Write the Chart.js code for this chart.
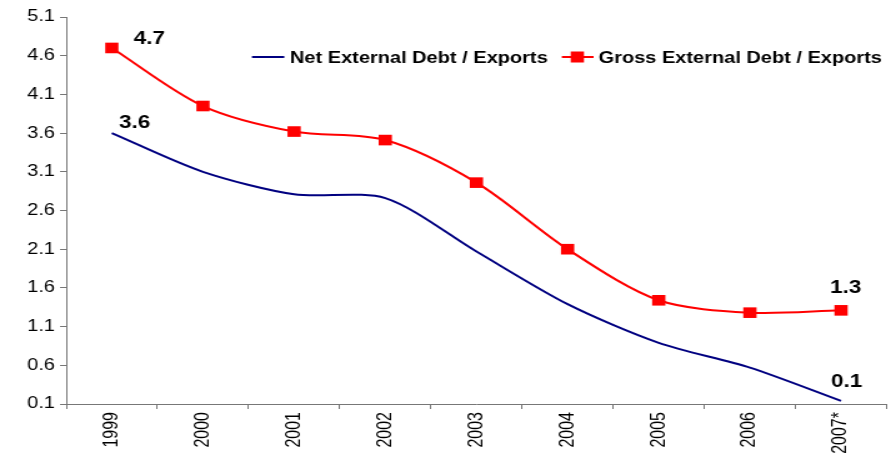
<!DOCTYPE html>
<html>
<head>
<meta charset="utf-8">
<script src="https://cdn.jsdelivr.net/npm/chart.js@4/dist/chart.umd.min.js"></script>
<style>
  html, body { margin: 0; padding: 0; background: #fff; }
  #debtChart { display: block; }
</style>
</head>
<body>
<!-- canvas is drawn narrow and widened by CSS, giving the wide letterforms -->
<canvas id="debtChart" width="717" height="461" style="width:896px;height:461px"></canvas>
<script>
const years = ['1999', '2000', '2001', '2002', '2003', '2004', '2005', '2006', '2007*'];
const netDebt = [3.6, 3.10, 2.81, 2.76, 2.07, 1.39, 0.89, 0.57, 0.14];
const grossDebt = [4.7, 3.95, 3.62, 3.51, 2.96, 2.10, 1.44, 1.28, 1.31];
const seriesNames = ['Net External Debt / Exports', 'Gross External Debt / Exports'];

const Y_MIN = 0.1;
const Y_MAX = 5.1;
const Y_STEP = 0.5;

const FONT = '"Liberation Sans", Arial, sans-serif';
const NAVY = '#000080';
const RED = '#ff0000';
const AXIS = '#777777';

// which points get a value written next to them, and where
const labelSpots = [
    { dataset: 1, index: 0, dx: 17.6, dy: -3.5 },
    { dataset: 0, index: 0, dx: 5.8, dy: -5.6 },
    { dataset: 1, index: 8, dx: -8.8, dy: -17 },
    { dataset: 0, index: 8, dx: -8, dy: -14 }
];

const valueLabels = {
    id: 'valueLabels',
    afterDatasetsDraw(chart) {
        const ctx = chart.ctx;
        ctx.save();
        ctx.font = 'bold 18px ' + FONT;
        ctx.fillStyle = '#000';
        ctx.textBaseline = 'alphabetic';
        labelSpots.forEach(s => {
            const pt = chart.getDatasetMeta(s.dataset).data[s.index];
            const v = chart.data.datasets[s.dataset].data[s.index];
            ctx.fillText(v.toFixed(1), pt.x + s.dx, pt.y + s.dy);
        });
        ctx.restore();
    }
};

// legend sits inside the plot, top right
const insideLegend = {
    id: 'insideLegend',
    afterDraw(chart) {
        const ctx = chart.ctx;
        const y = 57;
        ctx.save();
        ctx.lineWidth = 2;

        ctx.strokeStyle = NAVY;
        ctx.beginPath();
        ctx.moveTo(201.6, y);
        ctx.lineTo(227.5, y);
        ctx.stroke();

        ctx.strokeStyle = RED;
        ctx.beginPath();
        ctx.moveTo(449.6, y);
        ctx.lineTo(475, y);
        ctx.stroke();
        ctx.fillStyle = RED;
        ctx.fillRect(462 - 5.3, y - 5.5, 10.6, 11);

        ctx.font = 'bold 16px ' + FONT;
        ctx.fillStyle = '#000';
        ctx.textBaseline = 'alphabetic';
        ctx.fillText(seriesNames[0], 232, 63);
        ctx.fillText(seriesNames[1], 479, 63);
        ctx.restore();
    }
};

const ctx = document.getElementById('debtChart').getContext('2d');

new Chart(ctx, {
    type: 'line',
    data: {
        labels: years,
        datasets: [
            {
                label: seriesNames[0],
                data: netDebt,
                borderColor: NAVY,
                borderWidth: 2,
                pointRadius: 0,
                tension: 0.28,
                fill: false,
                clip: false
            },
            {
                label: seriesNames[1],
                data: grossDebt,
                borderColor: RED,
                borderWidth: 2,
                pointStyle: 'rect',
                pointRadius: 7.5,
                pointBackgroundColor: RED,
                pointBorderWidth: 0,
                tension: 0.3,
                fill: false,
                clip: false
            }
        ]
    },
    options: {
        responsive: false,
        devicePixelRatio: 1,
        animation: false,
        layout: { padding: { top: 17, right: 0, bottom: 0, left: 0 } },
        plugins: {
            legend: { display: false },
            tooltip: { enabled: false }
        },
        scales: {
            x: {
                type: 'category',
                offset: true,
                grid: { offset: true, drawOnChartArea: false, tickLength: 5, color: AXIS },
                border: { color: AXIS, width: 1 },
                ticks: {
                    color: '#000',
                    font: { family: FONT, size: 16 },
                    minRotation: 90,
                    maxRotation: 90,
                    autoSkip: false,
                    padding: 3
                },
                afterFit(scale) { scale.height = 57; }
            },
            y: {
                min: Y_MIN,
                max: Y_MAX,
                grid: { drawOnChartArea: false, tickLength: 5, color: AXIS },
                border: { color: AXIS, width: 1 },
                ticks: {
                    stepSize: Y_STEP,
                    color: '#000',
                    font: { family: FONT, size: 16 },
                    padding: 4,
                    callback: v => v.toFixed(1)
                },
                afterFit(scale) { scale.width = 53; }
            }
        }
    },
    plugins: [valueLabels, insideLegend]
});
</script>
</body>
</html>
